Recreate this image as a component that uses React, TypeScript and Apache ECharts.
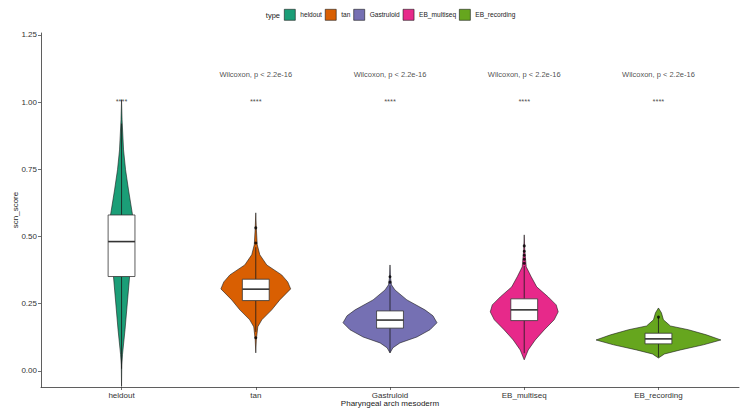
import React, { useEffect, useRef } from "react";
import * as echarts from "echarts";

const categories = ["heldout", "tan", "Gastruloid", "EB_multiseq", "EB_recording"];
const colors = ["#1B9E77", "#D95F02", "#7570B3", "#E7298A", "#66A61E"];

// violin outlines: value levels and half-widths (in category units)
const violinY_heldout = [1.009, 0.934, 0.822, 0.748, 0.673, 0.58, 0.484, 0.35, 0.264, 0.153, 0.06, 0.022, -0.058];
const violinW_heldout = [0, 0.004, 0.015, 0.03, 0.052, 0.082, 0.09, 0.06, 0.045, 0.026, 0.007, 0.002, 0];
const violinY_tan = [0.588, 0.532, 0.469, 0.432, 0.394, 0.357, 0.331, 0.305, 0.264, 0.227, 0.19, 0.164, 0.115, 0.067];
const violinW_tan = [0, 0.004, 0.011, 0.03, 0.082, 0.193, 0.238, 0.26, 0.179, 0.119, 0.045, 0.015, 0.004, 0];
const violinY_gastruloid = [0.394, 0.346, 0.32, 0.301, 0.264, 0.227, 0.205, 0.179, 0.153, 0.126, 0.104, 0.086, 0.067];
const violinW_gastruloid = [0, 0.004, 0.011, 0.037, 0.126, 0.26, 0.32, 0.35, 0.298, 0.2, 0.074, 0.022, 0];
const violinY_multiseq = [0.506, 0.45, 0.387, 0.35, 0.3125, 0.275, 0.2455, 0.2195, 0.19, 0.1525, 0.115, 0.078, 0.041];
const violinW_multiseq = [0, 0.004, 0.015, 0.052, 0.093, 0.179, 0.238, 0.253, 0.223, 0.149, 0.082, 0.03, 0];
const violinY_recording = [0.234, 0.216, 0.19, 0.167, 0.153, 0.134, 0.115, 0.097, 0.078, 0.063, 0.048];
const violinW_recording = [0, 0.022, 0.037, 0.089, 0.223, 0.357, 0.465, 0.335, 0.164, 0.045, 0];

const violinYs = [violinY_heldout, violinY_tan, violinY_gastruloid, violinY_multiseq, violinY_recording];
const violinWs = [violinW_heldout, violinW_tan, violinW_gastruloid, violinW_multiseq, violinW_recording];

// boxplot statistics
const q1s = [0.351, 0.2615, 0.159, 0.187, 0.1005];
const medians = [0.481, 0.304, 0.189, 0.227, 0.119];
const q3s = [0.58, 0.341, 0.223, 0.268, 0.14];
const whiskerLow = [0.008, 0.145, 0.067, 0.066, 0.05];
const whiskerHigh = [0.92, 0.46, 0.318, 0.39, 0.198];

// outliers per category
const outliers_tan = [0.476, 0.532, 0.123];
const outliers_gastruloid = [0.33, 0.35];
const outliers_multiseq = [0.4, 0.415, 0.43, 0.445, 0.465];
const outliers_recording = [0.2];
const outlierLists = [[], outliers_tan, outliers_gastruloid, outliers_multiseq, outliers_recording];

// annotations
const wilcoxLabel = "Wilcoxon, p < 2.2e-16";
const wilcoxCats = [2, 3, 4, 5];
const wilcoxY = 1.102;
const starLabel = "****";
const starCats = [1, 2, 3, 4, 5];
const starY = 1.004;

const yTicks = [0, 0.25, 0.5, 0.75, 1.0, 1.25];
const xTicks = [1, 2, 3, 4, 5];

export default function App() {
  const ref = useRef<HTMLDivElement>(null);
  useEffect(() => {
    if (!ref.current) return;
    const chart = echarts.init(ref.current, null, { renderer: "svg" });
    const font = "Liberation Sans, Arial, sans-serif";

    const violinSeries = categories.map((cat, i) => ({
      type: "custom",
      name: cat,
      coordinateSystem: "cartesian2d",
      itemStyle: { color: colors[i] },
      data: [[i + 1, medians[i]]],
      encode: { x: 0, y: 1 },
      z: 2,
      renderItem: (params: any, api: any) => {
        const xc = i + 1;
        const ys = violinYs[i];
        const ws = violinWs[i];
        const pts: number[][] = [];
        for (let k = 0; k < ys.length; k++) pts.push(api.coord([xc + ws[k], ys[k]]));
        for (let k = ys.length - 1; k >= 0; k--) pts.push(api.coord([xc - ws[k], ys[k]]));
        const tl = api.coord([xc - 0.1, q3s[i]]);
        const br = api.coord([xc + 0.1, q1s[i]]);
        const mL = api.coord([xc - 0.1, medians[i]]);
        const mR = api.coord([xc + 0.1, medians[i]]);
        const wh = api.coord([xc, whiskerHigh[i]]);
        const wl = api.coord([xc, whiskerLow[i]]);
        const c = api.coord([xc, 0]);
        return {
          type: "group",
          children: [
            {
              type: "polygon",
              shape: { points: pts },
              style: { fill: colors[i], stroke: "#1a1a1a", lineWidth: 0.6 },
            },
            {
              type: "line",
              shape: { x1: c[0], y1: wh[1], x2: c[0], y2: tl[1] },
              style: { stroke: "#1a1a1a", lineWidth: 0.8 },
            },
            {
              type: "line",
              shape: { x1: c[0], y1: br[1], x2: c[0], y2: wl[1] },
              style: { stroke: "#1a1a1a", lineWidth: 0.8 },
            },
            {
              type: "rect",
              shape: { x: tl[0], y: tl[1], width: br[0] - tl[0], height: br[1] - tl[1] },
              style: { fill: "#ffffff", stroke: "#333333", lineWidth: 0.8 },
            },
            {
              type: "line",
              shape: { x1: mL[0], y1: mL[1], x2: mR[0], y2: mR[1] },
              style: { stroke: "#333333", lineWidth: 1.6 },
            },
          ],
        };
      },
    }));

    const outlierData: number[][] = [];
    outlierLists.forEach((list, i) => list.forEach((v) => outlierData.push([i + 1, v])));

    const option: any = {
      animation: false,
      backgroundColor: "#ffffff",
      textStyle: { fontFamily: font },
      grid: { left: 41, right: 7, top: 33, bottom: 27, containLabel: false },
      legend: {
        data: categories,
        left: 279,
        top: 4,
        itemWidth: 11,
        itemHeight: 11,
        itemGap: 3,
        icon: "rect",
        itemStyle: { borderColor: "#1a1a1a", borderWidth: 0.6 },
        textStyle: { fontSize: 6.6, color: "#1a1a1a", fontFamily: font },
        selectedMode: false,
      },
      xAxis: {
        type: "value",
        min: 0.4,
        max: 5.6,
        splitLine: { show: false },
        axisLine: { show: true, onZero: false, lineStyle: { color: "#1a1a1a", width: 0.7 } },
        axisTick: { show: true, length: 3, customValues: xTicks, lineStyle: { color: "#333", width: 0.7 } },
        axisLabel: {
          customValues: xTicks,
          formatter: (v: number) => categories[Math.round(v) - 1] || "",
          fontSize: 8,
          color: "#333",
          margin: 4,
          fontFamily: font,
        },
      },
      yAxis: {
        type: "value",
        min: -0.06,
        max: 1.257,
        splitLine: { show: false },
        axisLine: { show: true, onZero: false, lineStyle: { color: "#1a1a1a", width: 0.7 } },
        axisTick: { show: true, length: 3, customValues: yTicks, lineStyle: { color: "#333", width: 0.7 } },
        axisLabel: {
          customValues: yTicks,
          formatter: (v: number) => v.toFixed(2),
          fontSize: 8,
          color: "#333",
          margin: 4,
          fontFamily: font,
        },
      },
      graphic: [
        {
          type: "text",
          x: 280,
          y: 15,
          style: { text: "type", fontSize: 7.5, fontWeight: "normal", fill: "#1a1a1a", textAlign: "right", textVerticalAlign: "middle", fontFamily: font },
        },
        {
          type: "text",
          x: 15,
          y: 210,
          rotation: Math.PI / 2,
          style: { text: "scn_score", fontSize: 8, fontWeight: "normal", fill: "#1a1a1a", textAlign: "center", textVerticalAlign: "middle", fontFamily: font },
        },
        {
          type: "text",
          x: 390,
          y: 403,
          style: { text: "Pharyngeal arch mesoderm", fontSize: 8, fontWeight: "normal", fill: "#1a1a1a", textAlign: "center", textVerticalAlign: "middle", fontFamily: font },
        },
      ],
      series: [
        ...violinSeries,
        {
          type: "scatter",
          name: "outliers",
          data: outlierData,
          symbolSize: 3,
          itemStyle: { color: "#000000" },
          z: 5,
          silent: true,
        },
        {
          type: "scatter",
          name: "wilcox",
          data: wilcoxCats.map((c) => [c, wilcoxY]),
          symbolSize: 0,
          silent: true,
          label: {
            show: true,
            position: "inside",
            formatter: () => wilcoxLabel,
            fontSize: 7.5,
            color: "#1a1a1a",
            fontFamily: font,
          },
        },
        {
          type: "scatter",
          name: "stars",
          data: starCats.map((c) => [c, starY]),
          symbolSize: 0,
          silent: true,
          label: {
            show: true,
            position: "inside",
            formatter: () => starLabel,
            fontSize: 7.5,
            color: "#1a1a1a",
            fontFamily: font,
          },
        },
      ],
    };
    chart.setOption(option);
    return () => chart.dispose();
  }, []);
  return <div ref={ref} style={{ width: 746, height: 414, position: "absolute", left: 0, top: 0 }} />;
}
